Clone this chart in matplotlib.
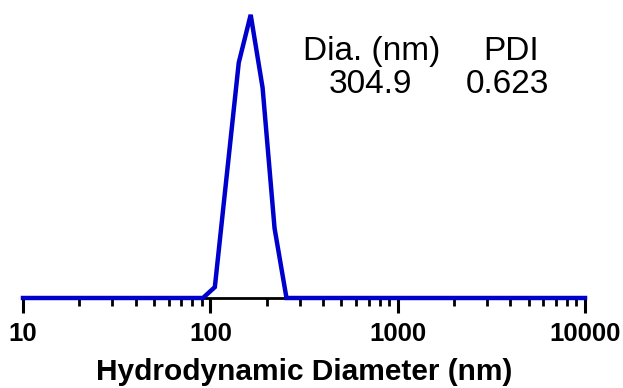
import matplotlib.pyplot as plt
from matplotlib.ticker import LogLocator, NullFormatter, FixedLocator

# size distribution (intensity %) vs hydrodynamic diameter (nm)
diam = [10, 91.28, 105.7, 141.8, 164.2, 190.1, 220.2, 255.0, 10000]
intensity = [0, 0, 1.0, 21.6, 26.0, 19.3, 6.4, 0, 0]

tick_vals = [10, 100, 1000, 10000]
tick_labels = ['10', '100', '1000', '10000']

plt.rcParams['font.family'] = ['Liberation Sans', 'DejaVu Sans']

fig = plt.figure(figsize=(6.23, 3.88), dpi=100)
ax = fig.add_axes([23 / 623, 90 / 388, 562 / 623, 293 / 388])

ax.plot(diam, intensity, color='#0000CC', lw=3.2, solid_joinstyle='miter',
        clip_on=False, zorder=3)

ax.set_xscale('log')
ax.set_xlim(10, 10000)
ax.set_ylim(0, 26.9)

for s in ['top', 'right', 'left']:
    ax.spines[s].set_visible(False)
ax.spines['bottom'].set_linewidth(2)
ax.set_yticks([])

ax.xaxis.set_major_locator(FixedLocator(tick_vals))
ax.set_xticklabels(tick_labels, fontsize=18.5, fontweight='bold')
ax.xaxis.set_minor_locator(LogLocator(base=10, subs=range(2, 10)))
ax.xaxis.set_minor_formatter(NullFormatter())
ax.tick_params(axis='x', which='major', length=11, width=2.2, pad=6)
ax.tick_params(axis='x', which='minor', length=5.5, width=2)

ax.set_xlabel('Hydrodynamic Diameter (nm)', fontsize=21.5, fontweight='bold',
              labelpad=9)

ax.text(0.596, 0.845, 'Dia. (nm)', transform=fig.transFigure, fontsize=24,
        ha='center', va='baseline')
ax.text(0.820, 0.845, 'PDI', transform=fig.transFigure, fontsize=24,
        ha='center', va='baseline')
ax.text(0.594, 0.760, '304.9', transform=fig.transFigure, fontsize=24,
        ha='center', va='baseline')
ax.text(0.814, 0.760, '0.623', transform=fig.transFigure, fontsize=24,
        ha='center', va='baseline')

fig.savefig('out.png', dpi=100)
